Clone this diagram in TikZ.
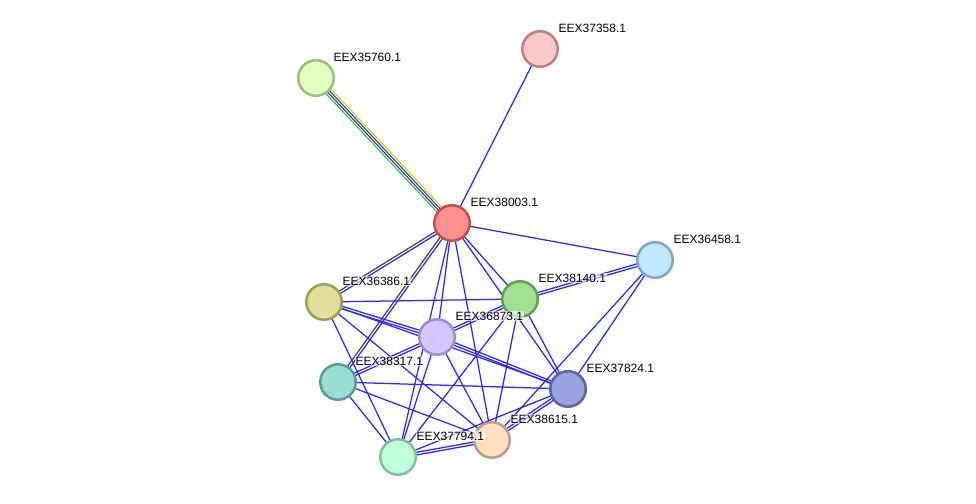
\documentclass[tikz,border=0pt]{standalone}
\usepackage{fontspec}
\setmainfont{Liberation Sans}
\usetikzlibrary{calc,backgrounds}
\definecolor{eblue}{RGB}{40,40,255}
\definecolor{egray}{RGB}{70,70,70}
\definecolor{eyel}{RGB}{200,200,40}
\definecolor{egreen}{RGB}{40,200,40}
\tikzset{
  prot/.style={circle,minimum size=35.5pt,inner sep=0pt,line width=2.5pt},
  lab/.style={anchor=west,font=\fontsize{12}{14}\selectfont,inner sep=0.5pt,fill=white,fill opacity=0.6,text opacity=1},
  edge/.style={draw=eblue,line width=1.25pt},
}
\newcommand\pl[4]{\draw[#4] ($(#1)!#3!90:(#2)$) -- ($(#2)!#3!-90:(#1)$);}
\newcommand\se[2]{\draw[edge] (#1.center) -- (#2.center);}
\newcommand\de[2]{\pl{#1}{#2}{1.3pt}{edge}\pl{#1}{#2}{-1.3pt}{edge}}
\begin{document}
\begin{tikzpicture}[x=1pt,y=-1pt]
\useasboundingbox (0,0) rectangle (976,503);
\node[prot,fill={rgb,255:red,249;green,200;blue,200},draw={rgb,255:red,190;green,130;blue,130}] (k) at (540,49) {};
\node[prot,fill={rgb,255:red,224;green,255;blue,192},draw={rgb,255:red,160;green,190;blue,128}] (j) at (316,78) {};
\node[prot,fill={rgb,255:red,255;green,144;blue,144},draw={rgb,255:red,192;green,80;blue,80}] (a) at (452,223) {};
\node[prot,fill={rgb,255:red,192;green,232;blue,255},draw={rgb,255:red,128;green,168;blue,192}] (e) at (655,260) {};
\node[prot,fill={rgb,255:red,224;green,222;blue,152},draw={rgb,255:red,160;green,158;blue,90}] (b) at (324,302) {};
\node[prot,fill={rgb,255:red,160;green,224;blue,144},draw={rgb,255:red,96;green,160;blue,80}] (d) at (520,299) {};
\node[prot,fill={rgb,255:red,212;green,196;blue,255},draw={rgb,255:red,160;green,140;blue,200}] (c) at (437,337) {};
\node[prot,fill={rgb,255:red,152;green,222;blue,214},draw={rgb,255:red,90;green,155;blue,148}] (f) at (338,382) {};
\node[prot,fill={rgb,255:red,152;green,162;blue,222},draw={rgb,255:red,90;green,100;blue,155}] (g) at (568,389) {};
\node[prot,fill={rgb,255:red,255;green,222;blue,194},draw={rgb,255:red,190;green,160;blue,128}] (h) at (492,440) {};
\node[prot,fill={rgb,255:red,192;green,255;blue,218},draw={rgb,255:red,128;green,192;blue,160}] (i) at (398,457) {};

\node[lab] (lk) at (558,28) {EEX37358.1};
\node[lab] (lj) at (333,57) {EEX35760.1};
\node[lab] (la) at (470,202) {EEX38003.1};
\node[lab] (le) at (673,239) {EEX36458.1};
\node[lab] (lb) at (342,281) {EEX36386.1};
\node[lab] (ld) at (538,278) {EEX38140.1};
\node[lab] (lc) at (455,316) {EEX36873.1};
\node[lab] (lf) at (355,361) {EEX38317.1};
\node[lab] (lg) at (586,368) {EEX37824.1};
\node[lab] (lh) at (510,419) {EEX38615.1};
\node[lab] (li) at (416,436) {EEX37794.1};

\begin{scope}[on background layer]
\pl{j}{a}{3.4pt}{draw=eyel,line width=1.1pt}
\pl{j}{a}{1.15pt}{draw=egray,line width=1.1pt}
\pl{j}{a}{-1.15pt}{draw=eblue,line width=1.1pt}
\pl{j}{a}{-3.4pt}{draw=egreen,line width=1.1pt}
\se{a}{k}
\se{a}{e}
\pl{a}{b}{1.3pt}{edge}
\pl{a}{b}{-1.3pt}{edge,draw=egray}
\pl{a}{f}{1.3pt}{edge}
\pl{a}{f}{-1.3pt}{edge,draw=egray}
\se{a}{d}
\se{a}{g}
\se{a}{c}
\se{a}{h}
\se{a}{i}
\se{b}{d}
\de{b}{c}
\se{b}{g}
\se{b}{h}
\se{b}{i}
\de{c}{d}
\de{c}{f}
\de{c}{g}
\se{c}{h}
\se{c}{i}
\de{d}{e}
\se{d}{g}
\se{d}{h}
\se{d}{i}
\se{e}{g}
\se{e}{h}
\se{f}{g}
\se{f}{h}
\se{f}{i}
\de{g}{h}
\se{g}{i}
\de{h}{i}
\end{scope}
\end{tikzpicture}
\end{document}
